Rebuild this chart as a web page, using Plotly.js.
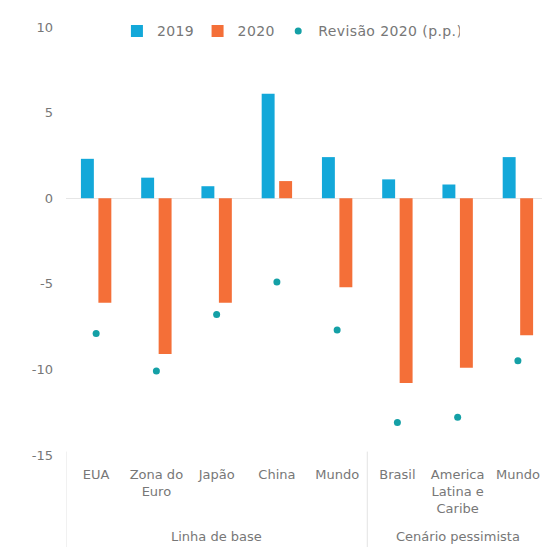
<!DOCTYPE html>
<html>
<head>
<meta charset="utf-8">
<script src="https://cdn.plot.ly/plotly-3.0.1.min.js"></script>
<style>
  html, body { margin: 0; padding: 0; background: #ffffff; }
  #chart { width: 542px; height: 547px; }
  #chart .legendtext { letter-spacing: 0.4px; }
</style>
</head>
<body>
<div id="chart"></div>
<script>
// Scenario of each region and region labels
const groups = ["Linha de base", "Linha de base", "Linha de base", "Linha de base", "Linha de base",
                "Cenário pessimista", "Cenário pessimista", "Cenário pessimista"];
const categories = ["EUA", "Zona do<br>Euro", "Japão", "China", "Mundo",
                    "Brasil", "America<br>Latina e<br>Caribe", "Mundo"];

// GDP growth (%) and revision of the 2020 forecast (p.p.)
const growth2019 = [2.3, 1.2, 0.7, 6.1, 2.4, 1.1, 0.8, 2.4];
const growth2020 = [-6.1, -9.1, -6.1, 1.0, -5.2, -10.8, -9.9, -8.0];
const revision2020 = [-7.9, -10.1, -6.8, -4.9, -7.7, -13.1, -12.8, -9.5];

// Y tick labels (plain hyphen minus)
const yTickVals = [10, 5, 0, -5, -10, -15];
const yTickText = ["10", "5", "0", "-5", "-10", "-15"];

// One slot per region on a linear axis (keeps both "Mundo" entries apart)
const slots = categories.map((_, i) => i);

const FONT = "'DejaVu Sans', 'Open Sans', sans-serif";
const TEXT = "#777777";

const traces = [
  {
    type: "bar", name: "2019", x: slots, y: growth2019,
    marker: { color: "#13a8d9" }, hoverinfo: "y"
  },
  {
    type: "bar", name: "2020", x: slots, y: growth2020,
    marker: { color: "#f46f38" }, hoverinfo: "y"
  },
  {
    type: "scatter", mode: "markers", name: "Revisão 2020 (p.p.)", x: slots, y: revision2020,
    marker: { color: "#14a0a6", size: 7 }, hoverinfo: "y"
  }
];

// Scenario blocks: label centred under its regions, divider at each block start
const blocks = [];
groups.forEach((g, i) => {
  const last = blocks[blocks.length - 1];
  if (last && last.name === g) { last.end = i; }
  else { blocks.push({ name: g, start: i, end: i }); }
});

const annotations = blocks.map(b => ({
  text: b.name, xref: "x", yref: "paper",
  x: (b.start + b.end) / 2, y: -0.19,
  xanchor: "center", yanchor: "middle", showarrow: false,
  font: { family: FONT, size: 13, color: TEXT }
}));

const shapes = blocks.map(b => ({
  type: "line", xref: "x", yref: "paper",
  x0: b.start - 0.5, x1: b.start - 0.5, y0: 0.008, y1: -0.3,
  line: { color: "#e3e3e3", width: 1 }
}));

const layout = {
  width: 542, height: 547,
  margin: { l: 66, r: 0, t: 27, b: 92, pad: 0 },
  paper_bgcolor: "#ffffff", plot_bgcolor: "#ffffff",
  font: { family: FONT, size: 13, color: TEXT },
  barmode: "group", bargap: 0.42, bargroupgap: 0.26,
  showlegend: true,
  legend: {
    orientation: "h", x: 0.107, xanchor: "left", y: 0.99, yanchor: "middle",
    font: { family: FONT, size: 14, color: TEXT },
    bgcolor: "rgba(0,0,0,0)", itemwidth: 30, traceorder: "normal"
  },
  xaxis: {
    range: [-0.5, 7.4], autorange: false,
    tickvals: slots, ticktext: categories,
    showgrid: false, zeroline: false, showline: false,
    ticks: "", ticklabelstandoff: 10, ticklabeloverflow: "allow",
    tickfont: { family: FONT, size: 13, color: TEXT },
    automargin: false
  },
  yaxis: {
    range: [-15, 10], autorange: false,
    tickvals: yTickVals, ticktext: yTickText,
    showgrid: false, showline: false,
    zeroline: true, zerolinecolor: "#e6e6e6", zerolinewidth: 1,
    ticks: "", ticklabelstandoff: 12,
    tickfont: { family: FONT, size: 13, color: TEXT },
    automargin: false
  },
  annotations: annotations,
  shapes: shapes
};

Plotly.newPlot("chart", traces, layout, { displayModeBar: false, staticPlot: true });
</script>
</body>
</html>
